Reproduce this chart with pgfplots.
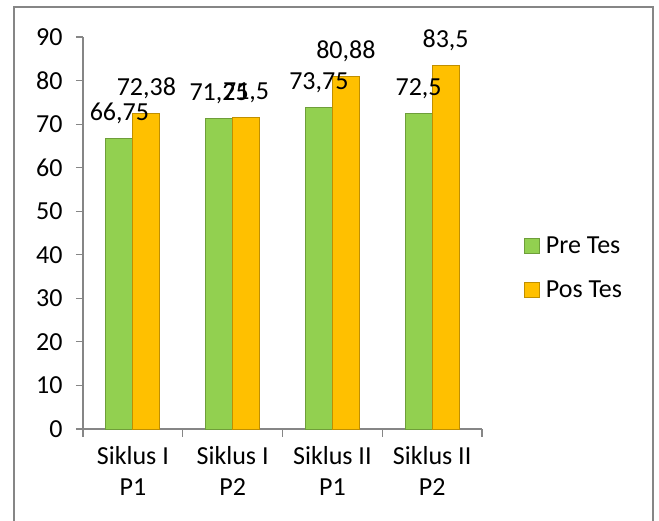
\documentclass[border=0pt]{standalone}
\usepackage{pgfplots}
\pgfplotsset{compat=1.18}
\usepackage{fontspec}
\setmainfont{Carlito}
\definecolor{pregreen}{HTML}{92D050}
\definecolor{preedge}{HTML}{6E9E3A}
\definecolor{posgold}{HTML}{FFC000}
\definecolor{posedge}{HTML}{C08F00}
\definecolor{axgray}{HTML}{868686}
\newcommand\f{\fontsize{26}{31}\selectfont}
\begin{document}
\begin{tikzpicture}
\useasboundingbox (-83pt,-92pt) rectangle (576pt,429pt);
\begin{axis}[
  at={(0pt,0pt)}, anchor=south west,
  scale only axis, width=399pt, height=392pt,
  xmin=-0.5, xmax=3.5, ymin=0, ymax=90,
  ybar=0pt, bar width=27pt,
  axis x line*=bottom, axis y line*=left,
  axis line style={axgray, line width=1.2pt},
  /pgf/number format/assume math mode=true,
  ytick={0,10,...,90},
  ytick style={axgray, line width=1.2pt},
  tick align=outside, major tick length=7pt,
  yticklabel style={font=\f, xshift=-10pt},
  xtick={0,1,2,3},
  xtick style={draw=none},
  xticklabels={{Siklus I\\P1},{Siklus I\\P2},{Siklus II\\P1},{Siklus II\\P2}},
  xticklabel style={font=\f, align=center, yshift=-7pt},
  extra x ticks={-0.5,0.5,1.5,2.5,3.5},
  extra x tick labels={},
  extra x tick style={xtick style={draw=axgray, line width=1.2pt}, major tick length=8pt},
  nodes near coords={\pgfmathprintnumber[fixed,precision=2,use comma]{\pgfplotspointmeta}},
  every node near coord/.append style={font=\f, anchor=base, yshift=18pt, inner sep=0pt},
  legend style={at={(1.105,0.41)}, anchor=west, draw=none, fill=none, font=\f,
    row sep=26pt, inner sep=0pt, nodes={inner sep=0pt, anchor=west}},
  legend cell align=left,
  legend image code/.code={\draw[#1] (0pt,-7.5pt) rectangle (15pt,7.5pt);},
  clip=false,
]
\addplot[fill=pregreen, draw=preedge, line width=0.8pt] coordinates {(0,66.75) (1,71.25) (2,73.75) (3,72.5)};
\addplot[fill=posgold, draw=posedge, line width=0.8pt] coordinates {(0,72.38) (1,71.5) (2,80.88) (3,83.5)};
\legend{\hspace{6pt}Pre Tes,\hspace{6pt}Pos Tes}
\end{axis}
\draw[axgray,line width=1.8pt] (-69pt,-95pt) -- (-69pt,422pt) -- (570pt,422pt) -- (570pt,-95pt);
\end{tikzpicture}
\end{document}
